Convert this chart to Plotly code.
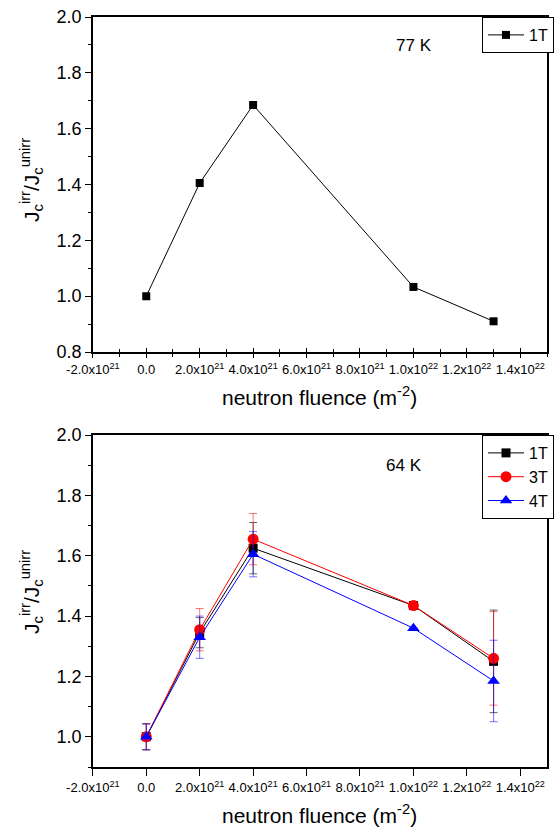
import plotly.graph_objects as go

# ---- data ----
fluence = [0.0, 2.0e21, 4.0e21, 1.0e22, 1.3e22]

top_1T = [1.0, 1.405, 1.685, 1.033, 0.91]

bot_1T = [1.0, 1.345, 1.625, 1.435, 1.25]
bot_3T = [1.0, 1.355, 1.655, 1.435, 1.26]
bot_4T = [1.0, 1.330, 1.605, 1.360, 1.185]

err_1T = [0.043, 0.05, 0.085, 0.0, 0.17]
err_3T = [0.043, 0.07, 0.085, 0.0, 0.155]
err_4T = [0.043, 0.07, 0.075, 0.0, 0.135]

xtick_vals = [-2.0e21, 0.0, 2.0e21, 4.0e21, 6.0e21, 8.0e21, 1.0e22, 1.2e22, 1.4e22]
xtick_text = ["-2.0x10<sup>21</sup>", "0.0", "2.0x10<sup>21</sup>", "4.0x10<sup>21</sup>",
              "6.0x10<sup>21</sup>", "8.0x10<sup>21</sup>", "1.0x10<sup>22</sup>",
              "1.2x10<sup>22</sup>", "1.4x10<sup>22</sup>"]

FONT = "Liberation Sans, Arial, sans-serif"
W, H = 554, 827

fig = go.Figure()

fig.add_trace(go.Scatter(
    x=fluence, y=top_1T, mode="lines+markers", name="1T",
    line=dict(color="black", width=1),
    marker=dict(symbol="square", size=8, color="black"),
    xaxis="x", yaxis="y", legend="legend"))

# invisible helper trace so the inside-tick overlay axis of the top plot is drawn
fig.add_trace(go.Scatter(x=fluence[:1], y=top_1T[:1], mode="markers",
                         marker=dict(opacity=0), showlegend=False, hoverinfo="skip",
                         xaxis="x3", yaxis="y"))

series = [
    ("1T", bot_1T, err_1T, "black", "rgba(0,0,0,0.6)", "square", 9),
    ("3T", bot_3T, err_3T, "red", "rgba(255,0,0,0.55)", "circle", 11),
    ("4T", bot_4T, err_4T, "blue", "rgba(0,0,255,0.55)", "triangle-up", 11),
]
for name, ys, es, col, ecol, sym, sz in series:
    fig.add_trace(go.Scatter(
        x=fluence, y=ys, mode="lines+markers", name=name,
        line=dict(color=col, width=1),
        marker=dict(symbol=sym, size=sz, color=col),
        error_y=dict(type="data", array=es, visible=True, color=ecol, thickness=1, width=4),
        xaxis="x2", yaxis="y2", legend="legend2"))

xdom = [93 / W, 548 / W]
top_dom = [1 - 352 / H, 1 - 17 / H]
bot_dom = [1 - 767 / H, 1 - 435 / H]

axis_common = dict(showline=True, linecolor="black", linewidth=1.5, mirror=True,
                   tickcolor="black", tickwidth=1.2, automargin=False,
                   showgrid=False, zeroline=False)

xfont = dict(family=FONT, size=13, color="black")
xaxis_top = dict(axis_common, range=[-2.0e21, 1.5e22], tickmode="array",
                 tickvals=xtick_vals, ticktext=xtick_text, domain=xdom, tickangle=0,
                 ticks="outside", ticklen=4, tickfont=xfont, ticklabelstandoff=1,
                 minor=dict(ticks="outside", ticklen=3, dtick=1e21, tickcolor="black"))
xaxis_top_in = dict(range=[-2.0e21, 1.5e22], domain=xdom, overlaying="x", anchor="y",
                    side="bottom", showline=False, showgrid=False, zeroline=False,
                    tickmode="array", tickvals=xtick_vals, showticklabels=False,
                    ticks="inside", ticklen=4, tickcolor="black", tickwidth=1.2,
                    automargin=False,
                    minor=dict(ticks="inside", ticklen=3, dtick=1e21, tickcolor="black"))
xaxis_bot = dict(axis_common, range=[-2.0e21, 1.5e22], tickmode="array",
                 tickvals=xtick_vals, ticktext=xtick_text, domain=xdom, tickangle=0,
                 ticks="outside", ticklen=7, tickfont=xfont, ticklabelstandoff=1)

yaxis_common = dict(axis_common, tickformat=".1f", dtick=0.2, ticks="outside", ticklen=6,
                    tickfont=dict(family=FONT, size=18, color="black"),
                    minor=dict(ticks="outside", ticklen=3, dtick=0.1, tickcolor="black"))

ytitle = "J<sub>c</sub><sup>irr</sup>/J<sub>c</sub><sup>unirr</sup>"
xtitle = "neutron fluence (m<sup>-2</sup>)"
tfont = dict(family=FONT, size=21, color="black")
kfont = dict(family=FONT, size=17, color="black")
lfont = dict(family=FONT, size=16, color="black")


def note(text, px, py, font, angle=0):
    return dict(text=text, x=px / W, y=1 - py / H, xref="paper", yref="paper",
                xanchor="center", yanchor="middle", showarrow=False, font=font,
                textangle=angle)


fig.update_layout(
    width=W, height=H,
    margin=dict(l=0, r=0, t=0, b=0),
    paper_bgcolor="white", plot_bgcolor="white",
    font=dict(family=FONT, color="black"),
    xaxis=dict(xaxis_top, anchor="y"),
    xaxis3=xaxis_top_in,
    yaxis=dict(yaxis_common, range=[0.8, 2.0], tick0=0.8, domain=top_dom, anchor="x"),
    xaxis2=dict(xaxis_bot, anchor="y2"),
    yaxis2=dict(yaxis_common, range=[0.9, 2.0], tick0=1.0, domain=bot_dom, anchor="x2"),
    legend=dict(x=555 / W, y=1 - 17 / H, xanchor="right", yanchor="top",
                bordercolor="black", borderwidth=1, bgcolor="white",
                font=lfont, tracegroupgap=0, itemwidth=36),
    legend2=dict(x=555 / W, y=1 - 435 / H, xanchor="right", yanchor="top",
                 bordercolor="black", borderwidth=1, bgcolor="white",
                 font=lfont, tracegroupgap=0, itemwidth=36),
    showlegend=True,
    annotations=[
        note("77 K", 415, 45, kfont),
        note("64 K", 405, 465, kfont),
        note(xtitle, 320, 396, tfont),
        note(xtitle, 320, 814, tfont),
        note(ytitle, 31, 180, tfont, -90),
        note(ytitle, 31, 592, tfont, -90),
    ],
)

fig.write_html("out.html")
